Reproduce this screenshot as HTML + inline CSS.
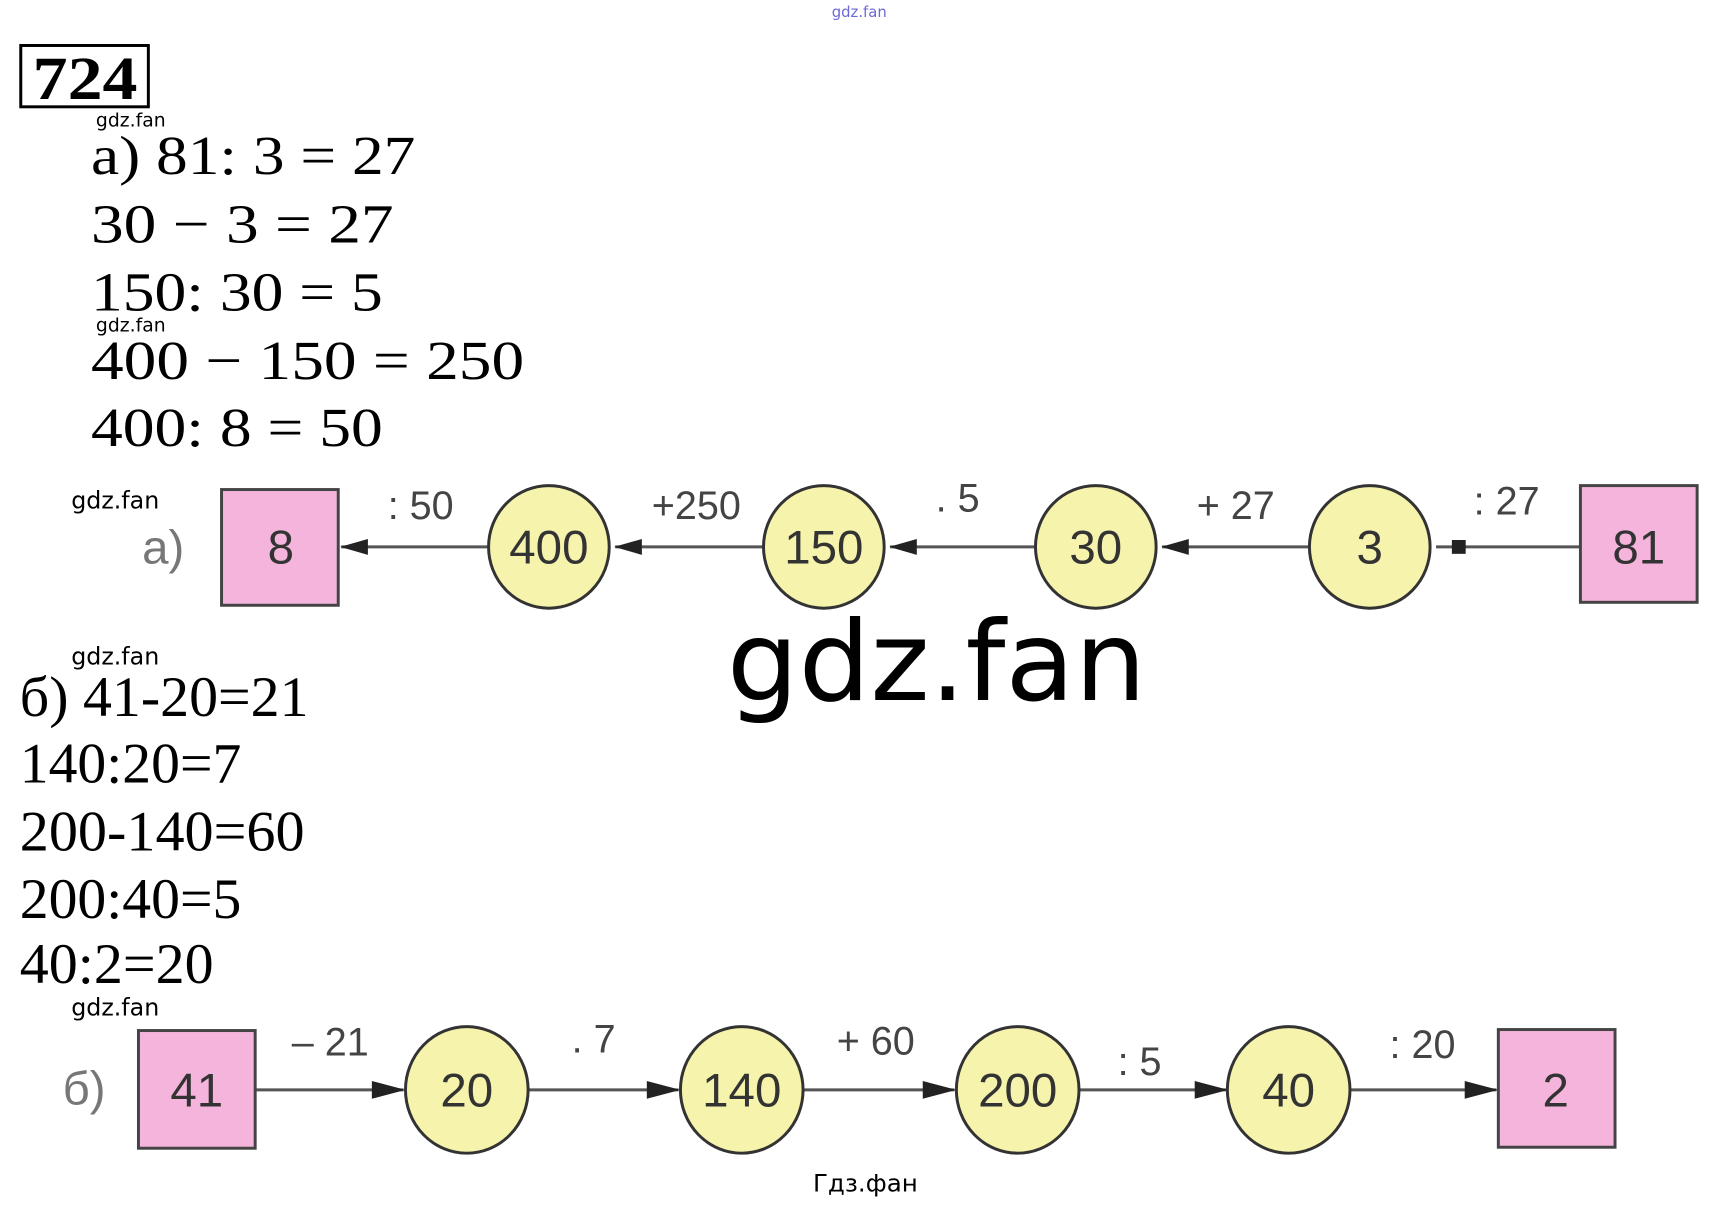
<!DOCTYPE html>
<html><head><meta charset="utf-8"><style>
html,body{margin:0;padding:0;background:#fff;}
svg{display:block;}
</style></head><body>
<svg width="1726" height="1210" viewBox="0 0 1726 1210" xmlns="http://www.w3.org/2000/svg">
<g transform="scale(0.989)">
<text x="841" y="17" font-family="DejaVu Sans, sans-serif" font-size="15" fill="#6a6ad8">gdz.fan</text>
<rect x="21" y="46" width="129" height="62" fill="none" stroke="#000" stroke-width="3"/>
<text x="33" y="100" font-family="Liberation Serif, serif" font-weight="bold" font-size="62" textLength="106" lengthAdjust="spacingAndGlyphs">724</text>
<g font-family="DejaVu Sans, sans-serif" font-size="19" fill="#000">
<text x="97" y="128">gdz.fan</text>
<text x="97" y="335">gdz.fan</text>
<text x="72" y="514" font-size="24">gdz.fan</text>
<text x="72" y="672" font-size="24">gdz.fan</text>
<text x="72" y="1027" font-size="24">gdz.fan</text>
</g>
<g font-family="Liberation Serif, serif" font-size="56" fill="#000" lengthAdjust="spacingAndGlyphs">
<text x="92" y="176" textLength="328" lengthAdjust="spacingAndGlyphs">а) 81: 3 = 27</text>
<text x="92" y="245" textLength="306" lengthAdjust="spacingAndGlyphs">30 − 3 = 27</text>
<text x="92" y="314" textLength="295" lengthAdjust="spacingAndGlyphs">150: 30 = 5</text>
<text x="92" y="383" textLength="438" lengthAdjust="spacingAndGlyphs">400 − 150 = 250</text>
<text x="92" y="451" textLength="295" lengthAdjust="spacingAndGlyphs">400: 8 = 50</text>
</g>
<g font-family="Liberation Serif, serif" font-size="58" fill="#000">
<text x="20" y="724" textLength="292" lengthAdjust="spacingAndGlyphs">б) 41-20=21</text>
<text x="20" y="791" textLength="224" lengthAdjust="spacingAndGlyphs">140:20=7</text>
<text x="20" y="860" textLength="288" lengthAdjust="spacingAndGlyphs">200-140=60</text>
<text x="20" y="928" textLength="224" lengthAdjust="spacingAndGlyphs">200:40=5</text>
<text x="20" y="994" textLength="196" lengthAdjust="spacingAndGlyphs">40:2=20</text>
</g>
<text x="735" y="708" font-family="DejaVu Sans, sans-serif" font-size="112" fill="#000" textLength="424" lengthAdjust="spacingAndGlyphs">gdz.fan</text>

<g stroke="#555" stroke-width="3">
<line x1="345" y1="553" x2="494" y2="553"/>
<line x1="622" y1="553" x2="772" y2="553"/>
<line x1="900" y1="553" x2="1047" y2="553"/>
<line x1="1175" y1="553" x2="1324" y2="553"/>
<line x1="1452" y1="553" x2="1598" y2="553"/>
</g>
<g fill="#222">
<polygon points="344,553 372,545 372,561"/>
<polygon points="621,553 649,545 649,561"/>
<polygon points="899,553 927,545 927,561"/>
<polygon points="1174,553 1202,545 1202,561"/>
<polygon points="1468,546 1482,546 1482,560 1468,560"/>
</g>
<rect x="224" y="495" width="118" height="117" fill="#f4b4dc" stroke="#444" stroke-width="3"/>
<rect x="1598" y="491" width="118" height="118" fill="#f4b4dc" stroke="#444" stroke-width="3"/>
<g fill="#f6f3ac" stroke="#333" stroke-width="3">
<ellipse cx="555" cy="553" rx="61" ry="62"/>
<ellipse cx="833" cy="553" rx="61" ry="62"/>
<ellipse cx="1108" cy="553" rx="61" ry="62"/>
<ellipse cx="1385" cy="553" rx="61" ry="62"/>
</g>
<g font-family="Liberation Sans, sans-serif" font-size="48" fill="#333" text-anchor="middle">
<text x="284" y="570">8</text>
<text x="555" y="570">400</text>
<text x="833" y="570">150</text>
<text x="1108" y="570">30</text>
<text x="1385" y="570">3</text>
<text x="1657" y="570">81</text>
<text x="165" y="570" fill="#777">а)</text>
</g>
<g font-family="Liberation Sans, sans-serif" font-size="40" fill="#444">
<text x="392" y="525">:  50</text>
<text x="659" y="525">+250</text>
<text x="946" y="517">.  5</text>
<text x="1210" y="525">+  27</text>
<text x="1490" y="520">:  27</text>
</g>

<g stroke="#555" stroke-width="3">
<line x1="258" y1="1102" x2="408" y2="1102"/>
<line x1="534" y1="1102" x2="686" y2="1102"/>
<line x1="812" y1="1102" x2="965" y2="1102"/>
<line x1="1091" y1="1102" x2="1240" y2="1102"/>
<line x1="1365" y1="1102" x2="1513" y2="1102"/>
</g>
<g fill="#222">
<polygon points="410,1102 376,1093 376,1111"/>
<polygon points="688,1102 654,1093 654,1111"/>
<polygon points="967,1102 933,1093 933,1111"/>
<polygon points="1242,1102 1208,1093 1208,1111"/>
<polygon points="1515,1102 1481,1093 1481,1111"/>
</g>
<rect x="140" y="1042" width="118" height="119" fill="#f4b4dc" stroke="#444" stroke-width="3"/>
<rect x="1515" y="1041" width="118" height="119" fill="#f4b4dc" stroke="#444" stroke-width="3"/>
<g fill="#f6f3ac" stroke="#333" stroke-width="3">
<ellipse cx="472" cy="1102" rx="62" ry="64"/>
<ellipse cx="750" cy="1102" rx="62" ry="64"/>
<ellipse cx="1029" cy="1102" rx="62" ry="64"/>
<ellipse cx="1303" cy="1102" rx="62" ry="64"/>
</g>
<g font-family="Liberation Sans, sans-serif" font-size="48" fill="#333" text-anchor="middle">
<text x="199" y="1119">41</text>
<text x="472" y="1119">20</text>
<text x="750" y="1119">140</text>
<text x="1029" y="1119">200</text>
<text x="1303" y="1119">40</text>
<text x="1573" y="1119">2</text>
<text x="85" y="1117" fill="#777">б)</text>
</g>
<g font-family="Liberation Sans, sans-serif" font-size="40" fill="#444">
<text x="295" y="1067">–  21</text>
<text x="578" y="1064">.  7</text>
<text x="846" y="1066">+ 60</text>
<text x="1130" y="1087">:  5</text>
<text x="1405" y="1070">:  20</text>
</g>
<text x="822" y="1205" font-family="DejaVu Sans, sans-serif" font-size="24" fill="#000" textLength="106" lengthAdjust="spacingAndGlyphs">Гдз.фан</text>
</g>
</svg>
</body></html>
